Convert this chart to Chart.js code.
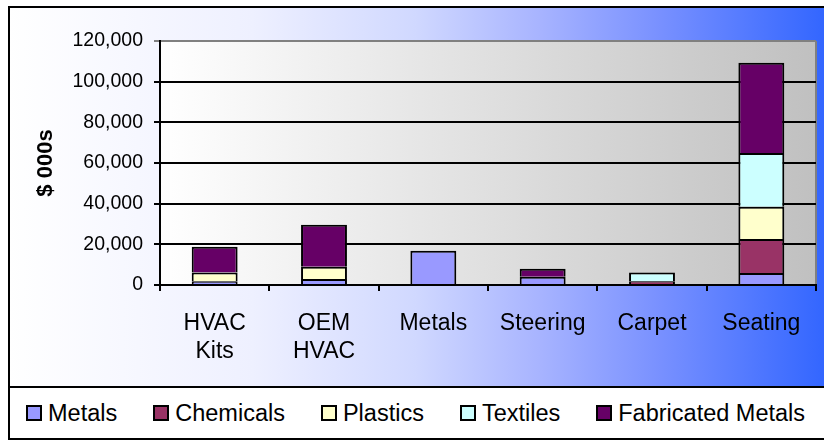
<!DOCTYPE html>
<html>
<head>
<meta charset="utf-8">
<script src="https://cdn.jsdelivr.net/npm/chart.js@4"></script>
<style>
  html, body { margin: 0; padding: 0; background: #fff; }
  #wrap { position: relative; width: 824px; height: 441px; }
  #barChart { position: absolute; left: 0; top: 0; }
  #leyenda {
    position: absolute; left: 8px; top: 386px; width: 814px; height: 50px;
    border-top: 2px solid #000; border-bottom: 2px solid #000; border-left: 2px solid #000;
    background: #fff; display: flex; align-items: center; padding-left: 16px;
    font-family: 'Liberation Sans', Arial, sans-serif; font-size: 23.5px; color: #000;
  }
  #leyenda .item { display: flex; align-items: center; margin-right: 36px; white-space: nowrap; }
  #leyenda .caja { width: 12px; height: 12px; border: 2px solid #000; margin-right: 6px; }
</style>
</head>
<body>
<div id="wrap">
  <canvas id="barChart" width="824" height="387"></canvas>
  <div id="leyenda"></div>
</div>
<script>
// sectors on the x axis, values in $ 000s per commodity
var categorias = [['HVAC', 'Kits'], ['OEM', 'HVAC'], 'Metals', 'Steering', 'Carpet', 'Seating'];
var metals = [1800, 3000, 16800, 4000, null, 5900];
var chemicals = [null, null, null, null, 1900, 16700];
var plastics = [4400, 6000, null, null, null, 15900];
var textiles = [null, null, null, null, 4300, 26400];
var fabricated = [12600, 20600, null, 4000, null, 44400];
var yTicks = [0, 20000, 40000, 60000, 80000, 100000, 120000];

var fuente = "'Liberation Sans', Arial, sans-serif";

// backgrounds, frame and plot border
var fondo = {
    id: 'fondo',
    beforeDraw: function (chart) {
        var ctx = chart.ctx, ca = chart.chartArea;
        ctx.save();
        ctx.fillStyle = '#fff';
        ctx.fillRect(0, 0, chart.width, chart.height);

        var g = ctx.createLinearGradient(8, 0, 824, 0);
        g.addColorStop(0, '#ffffff');
        g.addColorStop(0.3, '#eef0ff');
        g.addColorStop(0.5, '#d0d8ff');
        g.addColorStop(0.65, '#a8b4ff');
        g.addColorStop(0.8, '#7890ff');
        g.addColorStop(1, '#3366ff');
        ctx.fillStyle = g;
        ctx.fillRect(8, 6, 816, 381);

        var p = ctx.createLinearGradient(ca.left, 0, ca.right, 0);
        p.addColorStop(0, '#ffffff');
        p.addColorStop(1, '#c0c0c0');
        ctx.fillStyle = p;
        ctx.fillRect(ca.left, ca.top, ca.right - ca.left, ca.bottom - ca.top);

        ctx.strokeStyle = '#808080';
        ctx.lineWidth = 2;
        ctx.beginPath();
        ctx.moveTo(ca.right, ca.top);
        ctx.lineTo(ca.right, ca.bottom);
        ctx.stroke();

        ctx.strokeStyle = '#000';
        ctx.lineWidth = 2;
        ctx.beginPath();
        ctx.moveTo(9, 6); ctx.lineTo(9, 387);
        ctx.moveTo(8, 7); ctx.lineTo(824, 7);
        ctx.stroke();
        ctx.restore();
    }
};

function serie(label, data, color) {
    return {
        label: label,
        data: data,
        backgroundColor: color,
        borderColor: '#000',
        borderWidth: 2
    };
}

// legend below the chart, built from the datasets
function Leyenda(chart, contenedor) {
    chart.data.datasets.forEach(function (ds) {
        var item = document.createElement('div');
        item.className = 'item';
        var caja = document.createElement('span');
        caja.className = 'caja';
        caja.style.background = ds.backgroundColor;
        var txt = document.createElement('span');
        txt.textContent = ds.label;
        item.appendChild(caja);
        item.appendChild(txt);
        contenedor.appendChild(item);
    });
}

function Barra(cv_barra) {
    if (cv_barra) {
        return new Chart(cv_barra, {
            type: 'bar',
            data: {
                labels: categorias,
                datasets: [
                    serie('Metals', metals, '#9999ff'),
                    serie('Chemicals', chemicals, '#993366'),
                    serie('Plastics', plastics, '#ffffcc'),
                    serie('Textiles', textiles, '#ccffff'),
                    serie('Fabricated Metals', fabricated, '#660066')
                ]
            },
            options: {
                responsive: false,
                animation: false,
                layout: { padding: { left: 22, right: 8, top: 41, bottom: 0 } },
                datasets: { bar: { categoryPercentage: 1, barPercentage: 0.42 } },
                scales: {
                    x: {
                        stacked: true,
                        grid: { drawOnChartArea: false, drawTicks: true, tickLength: 6, color: '#000', lineWidth: 2 },
                        border: { color: '#000', width: 2 },
                        ticks: { color: '#000', font: { family: fuente, size: 23 }, padding: 19, maxRotation: 0, autoSkip: false },
                        afterFit: function (s) { s.height = 102; }
                    },
                    y: {
                        stacked: true,
                        min: 0,
                        max: 120000,
                        afterBuildTicks: function (s) { s.ticks = yTicks.map(function (v) { return { value: v }; }); },
                        grid: {
                            tickLength: 6,
                            lineWidth: 2,
                            color: function (c) { return c.tick && c.tick.value === 120000 ? '#808080' : '#000'; }
                        },
                        border: { color: '#000', width: 2 },
                        ticks: {
                            color: '#000',
                            font: { family: fuente, size: 19.5 },
                            padding: 11,
                            callback: function (v) { return v.toLocaleString('en-US'); }
                        },
                        title: {
                            display: true,
                            text: '$ 000s',
                            color: '#000',
                            font: { family: fuente, size: 22, weight: 'bold' },
                            padding: { top: 11, bottom: 0 }
                        },
                        afterFit: function (s) { s.width = 138; }
                    }
                },
                plugins: {
                    legend: { display: false },
                    title: { display: false },
                    tooltip: { enabled: false }
                }
            },
            plugins: [fondo]
        });
    }
}

var cvS_barra = document.getElementById("barChart");

var grafico = Barra(cvS_barra);
Leyenda(grafico, document.getElementById('leyenda'));
</script>
</body>
</html>
